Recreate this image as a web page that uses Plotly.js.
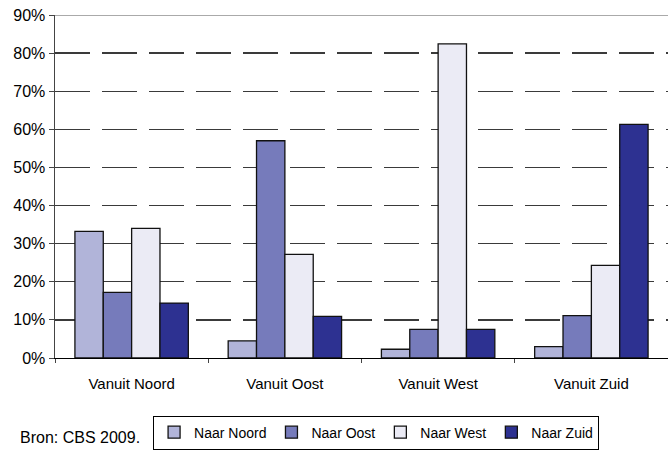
<!DOCTYPE html>
<html><head><meta charset="utf-8">
<script src="https://cdn.plot.ly/plotly-3.0.1.min.js"></script>
<style>body{margin:0;padding:0;background:#fff}#chart{width:668px;height:450px}</style>
</head><body><div id="chart"></div>
<script>
const categories = ["Vanuit Noord", "Vanuit Oost", "Vanuit West", "Vanuit Zuid"];
const seriesNames = ["Naar Noord", "Naar Oost", "Naar West", "Naar Zuid"];
const naarNoord = [0.332, 0.045, 0.023, 0.030];
const naarOost  = [0.172, 0.570, 0.075, 0.111];
const naarWest  = [0.340, 0.272, 0.824, 0.243];
const naarZuid  = [0.144, 0.109, 0.075, 0.613];
const colors = ["#b1b4d9", "#767bbb", "#ebebf5", "#2d3191"];
const values = [naarNoord, naarOost, naarWest, naarZuid];

const traces = seriesNames.map((n, i) => ({
  type: "bar", name: n, x: categories, y: values[i],
  marker: {color: colors[i], line: {color: "#111", width: 1.3}},
  hoverinfo: "skip"
}));

const layout = {
  width: 668, height: 450,
  margin: {l: 55, r: 0, t: 15, b: 90},
  paper_bgcolor: "#fff", plot_bgcolor: "#fff",
  font: {family: "Arial, 'Liberation Sans', sans-serif", color: "#000", size: 14},
  barmode: "group", bargap: 0.26, bargroupgap: 0,
  showlegend: true,
  legend: {orientation: "h", x: 0.16, y: -0.168, xanchor: "left", yanchor: "top",
    bordercolor: "#000", borderwidth: 1, font: {size: 14}, itemwidth: 30,
    traceorder: "normal"},
  xaxis: {type: "category", showline: true, linecolor: "#000", linewidth: 1,
    ticks: "outside", tickson: "boundaries", ticklen: 4, tickcolor: "#444",
    tickfont: {size: 15}, ticklabelstandoff: 12, showgrid: false, zeroline: false},
  yaxis: {range: [0, 0.9], dtick: 0.1, tickformat: ".0%", showline: true,
    linecolor: "#444", linewidth: 1.5, ticks: "outside", ticklen: 5, tickcolor: "#444",
    tickfont: {size: 16}, showgrid: true, gridcolor: "#3a3a3a", gridwidth: 1.3,
    griddash: "35px,12px", zeroline: false},
  shapes: [{type: "line", xref: "paper", yref: "y", x0: 0, x1: 1, y0: 0.9, y1: 0.9,
    line: {color: "#aaa", width: 2}}],
  annotations: [{text: "Bron: CBS 2009.", xref: "paper", yref: "paper", x: -0.06, y: -0.232,
    xanchor: "left", yanchor: "middle", showarrow: false, font: {size: 16}}]
};
Plotly.newPlot("chart", traces, layout, {staticPlot: true});
</script></body></html>
